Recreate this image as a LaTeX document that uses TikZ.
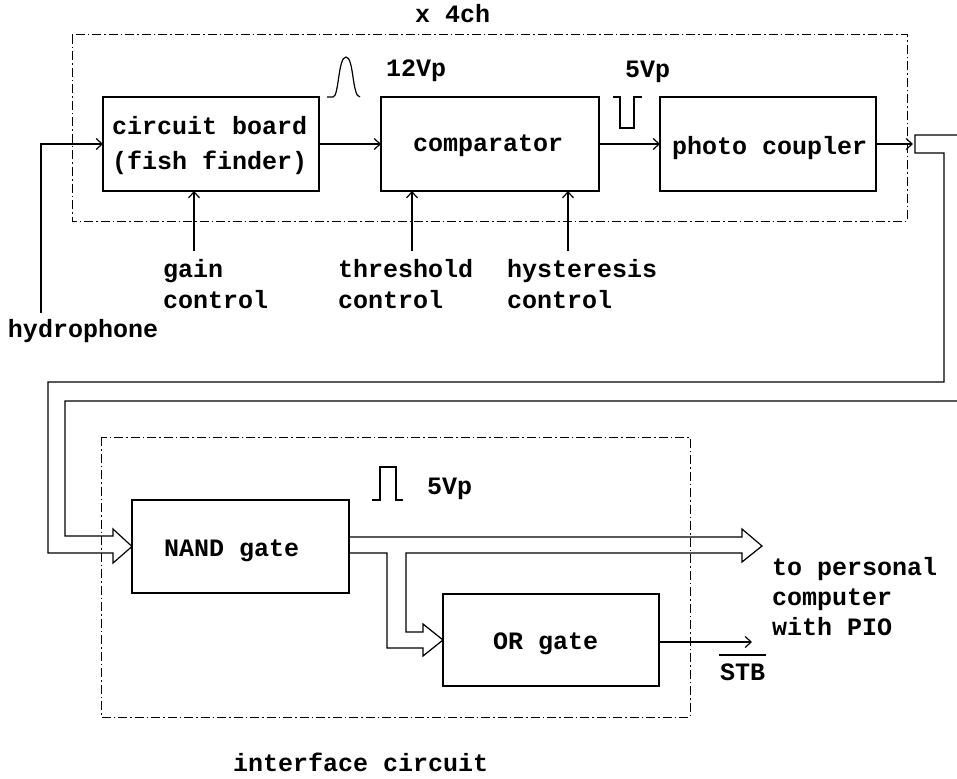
\documentclass[tikz,border=0pt]{standalone}
\usepackage{fontspec}
\setmainfont{Liberation Mono}
\usetikzlibrary{arrows.meta}
\begin{document}
\begin{tikzpicture}[x=1pt,y=-1pt,
  every node/.style={font=\fontsize{25}{30}\selectfont\bfseries, inner sep=0pt, outer sep=0pt},
  blk/.style={draw, line width=1.3pt, rectangle, anchor=north west},
  lbl/.style={anchor=base west},
  dd/.style={line width=1pt, dash pattern=on 9pt off 3pt on 1.5pt off 3pt},
  wire/.style={line width=1.2pt},
  arr/.style={line width=1.2pt, -{Straight Barb[length=6pt,width=11pt,line width=1.2pt]}},
  bus/.style={line width=1.2pt, line join=miter}]
\useasboundingbox (0,0) rectangle (957,778);

% dash-dot frames
\draw[dd] (72,35) rectangle (907,221);
\draw[dd] (101,437) rectangle (690,717);

% blocks
\node[blk, minimum width=216pt, minimum height=94pt] (cb) at (103,97) {};
\node[blk, minimum width=218pt, minimum height=94pt] (cmp) at (381,97) {};
\node[blk, minimum width=216pt, minimum height=94pt] (pc) at (660,97) {};
\node[blk, minimum width=217pt, minimum height=93pt] (nand) at (132,500) {};
\node[blk, minimum width=216pt, minimum height=92pt] (orb) at (443,594) {};

% block labels
\node[lbl] (t1) at (112,135) {circuit board};
\node[lbl] (t2) at (112,170) {(fish finder)};
\node[lbl] (t3) at (413,152) {comparator};
\node[lbl] (t4) at (672,154) {photo coupler};
\node[lbl] (t5) at (164,556) {NAND gate};
\node[lbl] (t6) at (493,649) {OR gate};

% other labels
\node[lbl] (x4) at (415,23) {x 4ch};
\node[lbl] (v12) at (386,77) {12Vp};
\node[lbl] (v5a) at (625,78) {5Vp};
\node[lbl] (v5b) at (427,494) {5Vp};
\node[lbl] (gain) at (163,277) {gain};
\node[lbl] (gainc) at (163,308) {control};
\node[lbl] (thr) at (338,277) {threshold};
\node[lbl] (thrc) at (338,308) {control};
\node[lbl] (hys) at (507,277) {hysteresis};
\node[lbl] (hysc) at (507,308) {control};
\node[lbl] (hyd) at (8,337) {hydrophone};
\node[lbl] (pc1) at (772,575) {to personal};
\node[lbl] (pc2) at (772,605) {computer};
\node[lbl] (pc3) at (772,635) {with PIO};
\node[lbl] (stb) at (720,680) {STB};
\node[lbl] (ifc) at (233,771) {interface circuit};
\draw[line width=1.2pt] (719,655) -- (766,655);

% pulses
\draw[wire] (327,97) -- (333,97) .. controls (339,97) and (338,57) .. (346,57)
  .. controls (354,57) and (352,97) .. (360,97);
\draw[wire] (613,97) -- (620,97) -- (620,128) -- (634,128) -- (634,97) -- (642,97);
\draw[wire] (372,500) -- (380,500) -- (380,467) -- (396,467) -- (396,500) -- (403,500);

% signal chain
\coordinate (hp) at (41,313);
\draw[arr] (hp) |- (cb.west);
\draw[arr] (cb.east) -- (cmp.west);
\draw[arr] (cmp.east) -- (pc.west);
\coordinate (pco) at (913,144);
\draw[arr] (pc.east) -- (pco);

% controls
\coordinate (g) at (194,251);
\coordinate (th) at (412,251);
\coordinate (hy) at (568,251);
\draw[arr] (g) -- (g |- cb.south);
\draw[arr] (th) -- (th |- cmp.south);
\draw[arr] (hy) -- (hy |- cmp.south);

% bus from photo coupler to NAND gate
\coordinate (ntip) at (nand.west);
\draw[bus] (957,135) -- (915,135) -- (915,153) -- (944,153) -- (944,382) -- (48,382)
  -- (48,553) -- (113,553) -- (113,563) -- (ntip) -- (113,529) -- (113,536)
  -- (65,536) -- (65,401) -- (957,401);

% NAND outputs
\coordinate (otip) at (443,640);
\draw[bus] (nand.east |- 0,537) -- (742,537) -- (742,529) -- (762,546) -- (742,562)
  -- (742,553) -- (406,553) -- (406,632) -- (423,632) -- (423,624) -- (otip)
  -- (423,656) -- (423,648) -- (387,648) -- (387,553) -- (nand.east |- 0,553);

% OR output
\coordinate (stbo) at (752,642);
\draw[arr] (orb.east |- stbo) -- (stbo);
\end{tikzpicture}
\end{document}
